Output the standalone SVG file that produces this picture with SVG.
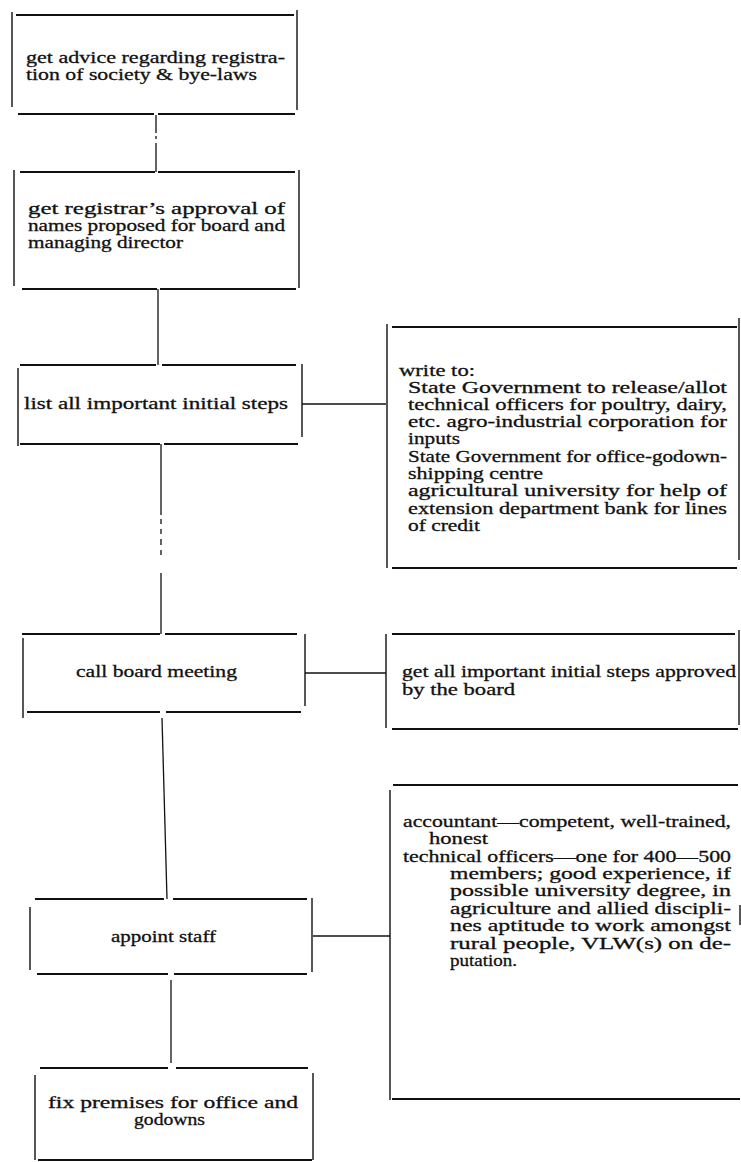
<svg xmlns="http://www.w3.org/2000/svg" width="741" height="1162" viewBox="0 0 741 1162">
  <style>
    .bg { fill: #ffffff; }
    .h { stroke: #111; stroke-width: 2; fill: none; stroke-linecap: butt; }
    .v { stroke: #111; stroke-width: 1.4; fill: none; }
    .c { stroke: #111; stroke-width: 1.3; fill: none; }
    text { font-family: "Liberation Serif", serif; font-size: 17px; fill: #111; stroke: #111; stroke-width: 0.3; }
  </style>
  <rect class="bg" x="0" y="0" width="741" height="1162"/>

  <!-- connectors -->
  <g id="connectors">
    <path class="c" d="M156 115 V133 M156 136 V139 M156 143 V172"/>
    <path class="c" d="M158 289 V365"/>
    <path class="c" d="M161 444 V515 M161 519 V524 M161 529 V534 M161 539 V545 M161 550 V555 M161 573 V634"/>
    <path class="c" d="M162 718 L167 899"/>
    <path class="c" d="M171 980 V1063"/>
    <path class="c" d="M302 404 H386"/>
    <path class="c" d="M305 673 H386"/>
    <path class="c" d="M313 936 H390"/>
  </g>

  <!-- get advice -->
  <g id="node-advice">
    <path class="h" d="M16 15 H294 M18 114 H154 M158 114 H295"/>
    <path class="v" d="M12 12 V107 M297 10 V110"/>
    <text x="26" y="63" textLength="259" lengthAdjust="spacingAndGlyphs">get advice regarding registra-</text>
    <text x="26" y="80" textLength="231" lengthAdjust="spacingAndGlyphs">tion of society &amp; bye-laws</text>
  </g>

  <!-- registrar's approval -->
  <g id="node-approval">
    <path class="h" d="M20 172 H155 M158 172 H295 M22 289 H157 M160 289 H296"/>
    <path class="v" d="M14 170 V286 M299 170 V288"/>
    <text x="28" y="214" textLength="257" lengthAdjust="spacingAndGlyphs">get registrar’s approval of</text>
    <text x="28" y="231" textLength="257" lengthAdjust="spacingAndGlyphs">names proposed for board and</text>
    <text x="28" y="248" textLength="155" lengthAdjust="spacingAndGlyphs">managing director</text>
  </g>

  <!-- list initial steps -->
  <g id="node-list">
    <path class="h" d="M20 365 H156 M162 365 H296 M20 444 H160 M164 444 H298"/>
    <path class="v" d="M18 368 V446 M302 364 V437"/>
    <text x="24" y="409" textLength="264" lengthAdjust="spacingAndGlyphs">list all important initial steps</text>
  </g>

  <!-- write to -->
  <g id="node-write">
    <path class="h" d="M392 327 H737 M392 568 H737"/>
    <path class="v" d="M387 324 V568 M739 318 V560"/>
    <text x="399" y="376" textLength="76" lengthAdjust="spacingAndGlyphs">write to:</text>
    <text x="408" y="393" textLength="319" lengthAdjust="spacingAndGlyphs">State Government  to  release/allot</text>
    <text x="408" y="410" textLength="319" lengthAdjust="spacingAndGlyphs">technical officers for poultry, dairy,</text>
    <text x="408" y="427" textLength="319" lengthAdjust="spacingAndGlyphs">etc.  agro-industrial corporation for</text>
    <text x="408" y="444" textLength="52" lengthAdjust="spacingAndGlyphs">inputs</text>
    <text x="408" y="462" textLength="319" lengthAdjust="spacingAndGlyphs">State Government for office-godown-</text>
    <text x="408" y="479" textLength="135" lengthAdjust="spacingAndGlyphs">shipping centre</text>
    <text x="408" y="496" textLength="319" lengthAdjust="spacingAndGlyphs">agricultural university for help of</text>
    <text x="408" y="514" textLength="319" lengthAdjust="spacingAndGlyphs">extension department bank for lines</text>
    <text x="408" y="531" textLength="72" lengthAdjust="spacingAndGlyphs">of credit</text>
  </g>

  <!-- call board meeting -->
  <g id="node-meeting">
    <path class="h" d="M22 634 H160 M165 634 H297 M27 712 H160 M166 712 H301"/>
    <path class="v" d="M23 638 V718 M305 634 V706"/>
    <text x="76" y="677" textLength="161" lengthAdjust="spacingAndGlyphs">call board meeting</text>
  </g>

  <!-- steps approved -->
  <g id="node-board-approval">
    <path class="h" d="M392 634 H735 M392 729 H738"/>
    <path class="v" d="M386 634 V728 M739 630 V725"/>
    <text x="402" y="677" textLength="334" lengthAdjust="spacingAndGlyphs">get all important initial steps approved</text>
    <text x="402" y="695" textLength="113" lengthAdjust="spacingAndGlyphs">by the board</text>
  </g>

  <!-- appoint staff -->
  <g id="node-staff">
    <path class="h" d="M35 899 H164 M173 899 H307 M37 974 H168 M174 974 H307"/>
    <path class="v" d="M30 907 V970 M312 898 V972"/>
    <text x="111" y="942" textLength="105" lengthAdjust="spacingAndGlyphs">appoint staff</text>
  </g>

  <!-- staff details -->
  <g id="node-staff-details">
    <path class="h" d="M393 785 H738 M392 1099 H740"/>
    <path class="v" d="M390 790 V1100 M740 905 V925"/>
    <text x="403" y="827" textLength="328" lengthAdjust="spacingAndGlyphs">accountant—competent,  well-trained,</text>
    <text x="429" y="844" textLength="59" lengthAdjust="spacingAndGlyphs">honest</text>
    <text x="403" y="862" textLength="328" lengthAdjust="spacingAndGlyphs">technical officers—one  for  400—500</text>
    <text x="450" y="879" textLength="281" lengthAdjust="spacingAndGlyphs">members;  good  experience,  if</text>
    <text x="450" y="896" textLength="281" lengthAdjust="spacingAndGlyphs">possible  university  degree,  in</text>
    <text x="450" y="914" textLength="281" lengthAdjust="spacingAndGlyphs">agriculture  and  allied  discipli-</text>
    <text x="450" y="931" textLength="281" lengthAdjust="spacingAndGlyphs">nes aptitude to work  amongst</text>
    <text x="450" y="949" textLength="281" lengthAdjust="spacingAndGlyphs">rural  people,  VLW(s)  on  de-</text>
    <text x="450" y="966" textLength="67" lengthAdjust="spacingAndGlyphs">putation.</text>
  </g>

  <!-- fix premises -->
  <g id="node-premises">
    <path class="h" d="M40 1068 H168 M176 1068 H308 M38 1160 H312"/>
    <path class="v" d="M35 1075 V1160 M313 1073 V1160"/>
    <text x="48" y="1108" textLength="250" lengthAdjust="spacingAndGlyphs">fix  premises  for  office  and</text>
    <text x="134" y="1125" textLength="71" lengthAdjust="spacingAndGlyphs">godowns</text>
  </g>
</svg>
